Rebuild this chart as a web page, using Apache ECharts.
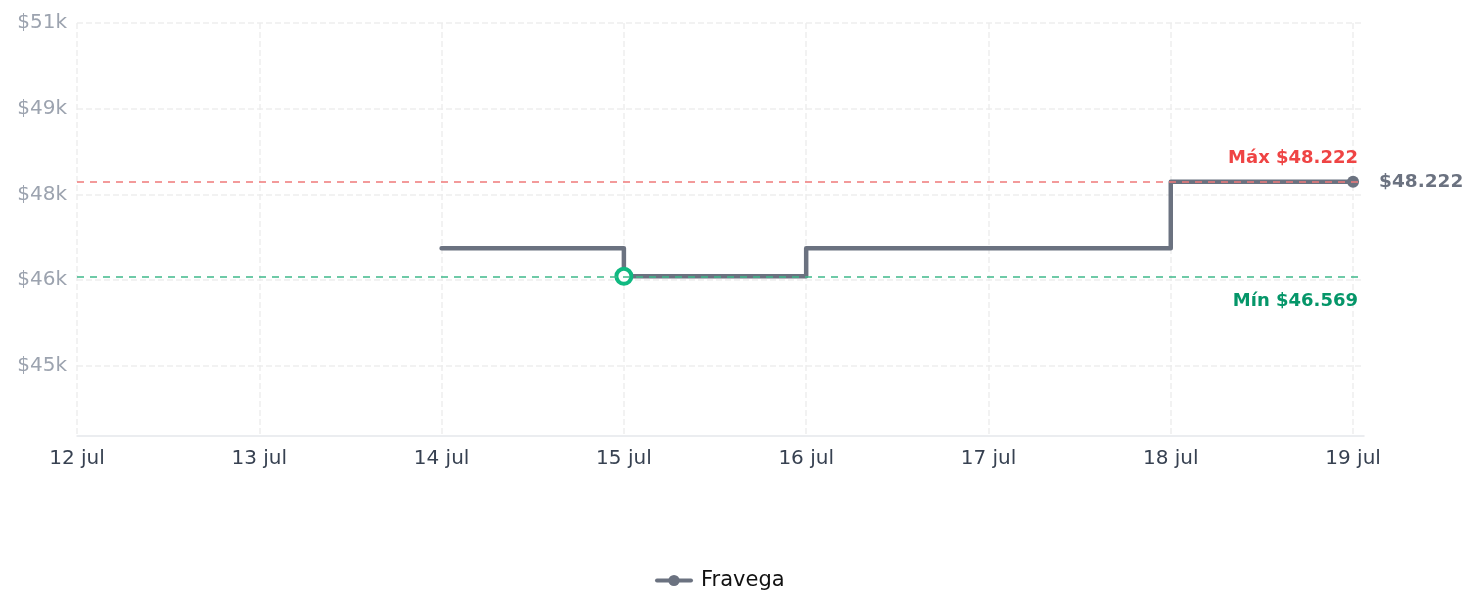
<!DOCTYPE html>
<html>
<head>
<meta charset="utf-8">
<script src="https://cdn.jsdelivr.net/npm/echarts@6/dist/echarts.min.js"></script>
<style>
  html, body { margin: 0; padding: 0; background: #fff; }
  #chart { width: 1478px; height: 614px; }
</style>
</head>
<body>
<div id="chart"></div>
<script>
// data
var dayLabels = ['12 jul', '13 jul', '14 jul', '15 jul', '16 jul', '17 jul', '18 jul', '19 jul']
var dayNums = [12, 13, 14, 15, 16, 17, 18, 19]
var prices = [null, null, 47059, 46569, 47059, 47059, 48222, 48222]
var yTicks = [45000, 46500, 48000, 49500, 51000]
var seriesName = 'Fravega'

function fmtPrice(v){
    var s = String(Math.round(v))
    return '$' + s.replace(/\B(?=(\d{3})+(?!\d))/g, '.')
}

var valid = prices.filter(function(v){ return v != null })
var maxPrice = Math.max.apply(null, valid)
var minPrice = Math.min.apply(null, valid)
var minIdx = prices.indexOf(minPrice)
var lastIdx = prices.length - 1

var seriesData = dayNums.map(function(d, i){
    var item = { value: [d, prices[i]], symbol: 'none' }
    if (i === minIdx) {
        item.symbol = 'circle'
        item.symbolSize = 15
        item.itemStyle = { color: '#ffffff', borderColor: '#10b981', borderWidth: 4 }
    }
    if (i === lastIdx) {
        item.symbol = 'circle'
        item.symbolSize = 12
        item.label = {
            show: true,
            position: 'right',
            distance: 20,
            formatter: function(p){ return fmtPrice(p.value[1]) },
            color: '#6b7280',
            fontWeight: 'bold',
            fontSize: 18.5
        }
    }
    return item
})

var chart = echarts.init(document.getElementById('chart'), null, { renderer: 'canvas' })

var option = {
    animation: false,
    textStyle: { fontFamily: 'DejaVu Sans' },
    grid: { left: 77, right: 114, top: 23, bottom: 178, containLabel: false },
    legend: {
        bottom: 18,
        left: 650,
        itemWidth: 34,
        itemHeight: 14,
        lineStyle: { width: 4 },
        textStyle: { fontSize: 21, color: '#111', padding: [0, 0, 0, 5] },
        data: [seriesName]
    },
    xAxis: {
        type: 'value',
        min: dayNums[0],
        max: dayNums[dayNums.length - 1] + 0.06,
        axisLine: { lineStyle: { color: '#e5e7eb', width: 1.5 } },
        axisTick: { show: false, customValues: dayNums },
        axisLabel: {
            customValues: dayNums,
            margin: 13,
            fontSize: 20,
            color: '#374151',
            formatter: function(v){ return dayLabels[dayNums.indexOf(v)] }
        },
        splitLine: { show: true, lineStyle: { type: 'dashed', color: '#eeeeee', width: 1.5 } }
    },
    yAxis: {
        type: 'value',
        min: Math.round(minPrice * 0.94),
        max: yTicks[yTicks.length - 1],
        axisLine: { show: false },
        axisTick: { show: false, customValues: yTicks },
        axisLabel: {
            customValues: yTicks,
            margin: 10,
            fontSize: 20,
            color: '#9ca3af',
            formatter: function(v){ return '$' + Math.floor(v / 1000) + 'k' }
        },
        splitLine: { show: true, lineStyle: { type: 'dashed', color: '#eeeeee', width: 1.5 } }
    },
    series: [
        {
            name: seriesName,
            type: 'line',
            step: 'end',
            symbol: 'circle',
            data: seriesData,
            color: '#6b7280',
            lineStyle: { width: 4.5, color: '#6b7280', cap: 'round', join: 'round' },
            itemStyle: { color: '#6b7280' },
            emphasis: { disabled: true },
            markLine: {
                silent: true,
                symbol: 'none',
                data: [
                    {
                        yAxis: maxPrice,
                        lineStyle: { color: '#f07a7a', type: [7, 6], width: 1.5 },
                        label: {
                            position: 'insideEndTop',
                            formatter: 'Máx ' + fmtPrice(maxPrice),
                            color: '#ef4444',
                            fontWeight: 'bold',
                            fontSize: 18,
                            distance: [6, 14]
                        }
                    },
                    {
                        yAxis: minPrice,
                        lineStyle: { color: '#3fb98b', type: [7, 6], width: 1.5 },
                        label: {
                            position: 'insideEndBottom',
                            formatter: 'Mín ' + fmtPrice(minPrice),
                            color: '#059669',
                            fontWeight: 'bold',
                            fontSize: 18,
                            distance: [6, 16]
                        }
                    }
                ]
            }
        }
    ]
}
chart.setOption(option)
</script>
</body>
</html>
